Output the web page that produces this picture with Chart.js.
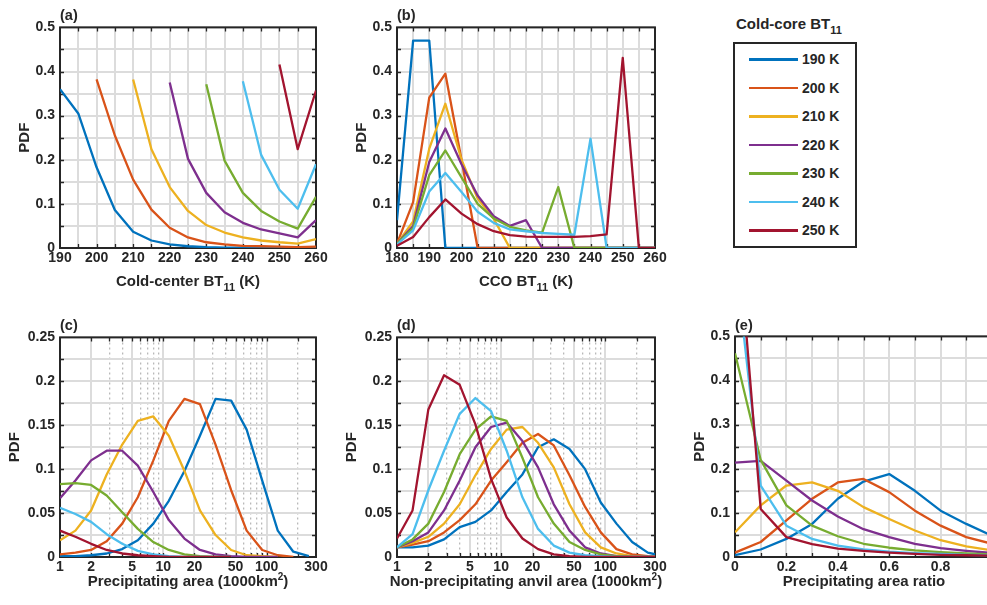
<!DOCTYPE html>
<html><head><meta charset="utf-8">
<script src="https://cdn.jsdelivr.net/npm/chart.js@4.4.0/dist/chart.umd.min.js"></script>
<style>
html,body{margin:0;padding:0;width:987px;height:605px;overflow:hidden;background:#fff;}
body{position:relative;font-family:"Liberation Sans",Arial,Helvetica,sans-serif;font-weight:bold;color:#262626;}
canvas{position:absolute;}
.t{position:absolute;white-space:nowrap;font-weight:bold;line-height:18px;}
.xt{font-size:15px;transform:translateX(-50%);}
.pl{font-size:14.5px;}
.sub{font-size:11px;position:relative;top:5px;}
.sup{font-size:10px;position:relative;top:-6px;}
#legend{position:absolute;left:733px;top:42px;width:124px;height:206px;box-sizing:border-box;border:2px solid #262626;}
.li{position:absolute;left:0;height:20px;}
.ll{position:absolute;left:14px;width:49px;height:2.5px;top:9px;}
.lt{position:absolute;left:67px;top:1px;font-size:14px;line-height:18px;white-space:nowrap;}
</style></head><body>
<canvas id="ca"></canvas><canvas id="cb"></canvas><canvas id="cc"></canvas><canvas id="cd"></canvas><canvas id="ce"></canvas>
<div class="t pl" style="left:60px;top:6px">(a)</div>
<div class="t pl" style="left:397px;top:6px">(b)</div>
<div class="t pl" style="left:60px;top:316px">(c)</div>
<div class="t pl" style="left:397px;top:316px">(d)</div>
<div class="t pl" style="left:735px;top:316px">(e)</div>
<div class="t xt" style="left:188px;top:272px">Cold-center BT<span class="sub">11</span> (K)</div>
<div class="t xt" style="left:526px;top:272px">CCO BT<span class="sub">11</span> (K)</div>
<div class="t xt" style="left:188px;top:572px">Precipitating area (1000km<span class="sup">2</span>)</div>
<div class="t xt" style="left:526px;top:572px">Non-precipitating anvil area (1000km<span class="sup">2</span>)</div>
<div class="t xt" style="left:864px;top:572px">Precipitating area ratio</div>
<div class="t" style="left:736px;top:15px;font-size:15px">Cold-core BT<span class="sub">11</span></div>
<div id="legend"></div>
<script>
// ---------- series ----------
const seriesNames = ['190 K','200 K','210 K','220 K','230 K','240 K','250 K'];
const seriesColors = ['#0072BD','#D95319','#EDB120','#7E2F8E','#77AC30','#4DBEEE','#A2142F'];

// ---------- panel (a): cold-center BT11 ----------
const btColdCenter = [190,195,200,205,210,215,220,225,230,235,240,245,250,255,260];
const a190 = [0.36,0.305,0.183,0.086,0.037,0.017,0.008,0.004,0.002,0.001,0.001,0.0005,0.0003,0.0002,0.0001];
const a200 = [null,null,0.382,0.255,0.155,0.087,0.046,0.024,0.013,0.008,0.005,0.004,0.003,0.002,0.003];
const a210 = [null,null,null,null,0.382,0.224,0.138,0.084,0.052,0.035,0.024,0.017,0.013,0.010,0.020];
const a220 = [null,null,null,null,null,null,0.375,0.202,0.125,0.081,0.057,0.042,0.033,0.024,0.063];
const a230 = [null,null,null,null,null,null,null,null,0.371,0.198,0.125,0.084,0.060,0.044,0.116];
const a240 = [null,null,null,null,null,null,null,null,null,null,0.378,0.211,0.132,0.089,0.190];
const a250 = [null,null,null,null,null,null,null,null,null,null,null,null,0.416,0.224,0.357];

// ---------- panel (b): CCO BT11 ----------
const btCCO = [180,185,190,195,200,205,210,215,220,225,230,235,240,245,250,255,260];
const b190 = [0.063,0.47,0.47,0,0,0,0,0,0,0,0,0,0,0,0,0,0];
const b200 = [0.01,0.104,0.341,0.395,0.2,0,0,0,0,0,0,0,0,0,0,0,0];
const b210 = [0.01,0.06,0.225,0.327,0.2,0.112,0.066,0,0,0,0,0,0,0,0,0,0];
const b220 = [0.01,0.05,0.195,0.271,0.19,0.119,0.072,0.05,0.063,0,0,0,0,0,0,0,0];
const b230 = [0.01,0.045,0.165,0.221,0.16,0.1,0.067,0.048,0.04,0.035,0.138,0,0,0,0,0,0];
const b240 = [0.008,0.04,0.128,0.17,0.127,0.082,0.057,0.042,0.038,0.034,0.032,0.03,0.248,0,0,0,0];
const b250 = [0.005,0.025,0.07,0.11,0.078,0.054,0.038,0.029,0.026,0.025,0.025,0.025,0.027,0.031,0.431,0,0];

// ---------- panels (c),(d): area bins (1000 km2) ----------
const areaBins = [1,1.41,2,2.83,4,5.66,8,11.3,16,22.6,32,45.3,64,90.5,128,181,256,362];
const c190 = [0.001,0.001,0.002,0.004,0.009,0.019,0.038,0.064,0.098,0.138,0.18,0.178,0.145,0.087,0.03,0.006,0.001,null];
const c200 = [0.003,0.005,0.008,0.018,0.038,0.068,0.11,0.155,0.18,0.174,0.128,0.076,0.03,0.008,0.002,0,null,null];
const c210 = [0.019,0.03,0.053,0.094,0.128,0.155,0.16,0.138,0.098,0.053,0.025,0.008,0.002,0.001,0,null,null,null];
const c220 = [0.067,0.087,0.11,0.121,0.121,0.104,0.074,0.042,0.021,0.008,0.003,0.001,0,0,0,null,null,null];
const c230 = [0.083,0.084,0.082,0.07,0.051,0.032,0.017,0.008,0.003,0.001,0,0,null,null,null,null,null,null];
const c240 = [0.056,0.049,0.04,0.026,0.015,0.007,0.003,0.001,0,0,0,0,null,null,null,null,null,null];
const c250 = [0.03,0.023,0.015,0.008,0.004,0.002,0.001,0,0,0,0,0,null,null,null,null,null,null];

const d190 = [0.011,0.011,0.013,0.02,0.034,0.04,0.053,0.074,0.094,0.125,0.134,0.123,0.1,0.062,0.038,0.017,0.005,0.001];
const d200 = [0.011,0.014,0.018,0.028,0.042,0.06,0.087,0.108,0.13,0.14,0.127,0.093,0.057,0.028,0.009,0.003,0.001,0];
const d210 = [0.011,0.016,0.023,0.038,0.06,0.093,0.123,0.145,0.148,0.13,0.102,0.06,0.028,0.011,0.004,0.001,0,0];
const d220 = [0.011,0.018,0.028,0.053,0.087,0.125,0.148,0.153,0.132,0.102,0.06,0.03,0.011,0.004,0.001,0,0,0];
const d230 = [0.011,0.02,0.038,0.074,0.117,0.145,0.16,0.155,0.113,0.068,0.038,0.017,0.008,0.003,0.001,0,0,0];
const d240 = [0.011,0.026,0.076,0.121,0.163,0.181,0.166,0.121,0.068,0.032,0.013,0.005,0.002,0.001,0,0,0,0];
const d250 = [0.021,0.053,0.168,0.207,0.196,0.151,0.089,0.045,0.021,0.009,0.003,0.001,0,0,0,0,0,0];

// ---------- panel (e): precipitating area ratio ----------
const areaRatio = [0,0.1,0.2,0.3,0.4,0.5,0.6,0.7,0.8,0.9,1.0];
const e190 = [0.004,0.017,0.041,0.075,0.132,0.171,0.188,0.15,0.105,0.075,0.048];
const e200 = [0.01,0.034,0.083,0.132,0.169,0.177,0.147,0.105,0.071,0.045,0.03];
const e210 = [0.056,0.117,0.162,0.169,0.15,0.113,0.086,0.06,0.038,0.024,0.015];
const e220 = [0.214,0.218,0.173,0.128,0.092,0.063,0.045,0.03,0.02,0.014,0.009];
const e230 = [0.462,0.22,0.117,0.071,0.047,0.03,0.021,0.015,0.011,0.008,0.006];
const e240 = [0.68,0.162,0.071,0.041,0.026,0.017,0.012,0.009,0.007,0.005,0.004];
const e250 = [0.82,0.109,0.045,0.029,0.019,0.014,0.01,0.007,0.005,0.004,0.003];

// ---------- tick values ----------
const logGridTicks = [1,2,3,4,5,6,7,8,9,10,20,30,40,50,60,70,80,90,100,200,300];
const logLabelTicks = [1,2,5,10,20,50,100,300];

// ---------- rendering ----------
const FONT = '"Liberation Sans", Arial, Helvetica, sans-serif';
Chart.defaults.font.family = FONT;
Chart.defaults.font.weight = 'bold';
Chart.defaults.font.size = 14;
Chart.defaults.color = '#262626';

const INK = '#262626';
const GRID = '#dcdcdc';
const MINOR = '#b9b9b9';

function isMult(v, s){ const r = v / s; return Math.abs(r - Math.round(r)) < 1e-6; }
function fmt(v){ return String(+(+v).toFixed(4)); }

const framePlugin = {
  id: 'frame',
  beforeDatasetsDraw(chart){
    const {ctx, chartArea: a, scales} = chart;
    ctx.save();
    ctx.strokeStyle = INK;
    ctx.lineWidth = 1.3;
    ctx.beginPath();
    scales.x.ticks.forEach(t => {
      const p = Math.round(scales.x.getPixelForValue(t.value)) + 0.5;
      if (p <= a.left + 1 || p >= a.right - 1) return;
      const len = 4;
      ctx.moveTo(p, a.bottom); ctx.lineTo(p, a.bottom - len);
      ctx.moveTo(p, a.top); ctx.lineTo(p, a.top + len);
    });
    scales.y.ticks.forEach(t => {
      const p = Math.round(scales.y.getPixelForValue(t.value)) + 0.5;
      if (p <= a.top + 1 || p >= a.bottom - 1) return;
      ctx.moveTo(a.left, p); ctx.lineTo(a.left + 4, p);
      ctx.moveTo(a.right, p); ctx.lineTo(a.right - 4, p);
    });
    ctx.stroke();
    ctx.lineWidth = 2;
    ctx.strokeRect(a.left, a.top, a.right - a.left, a.bottom - a.top);
    ctx.restore();
  }
};

function sets(xs, list){
  return list.map((ys, i) => ({
    label: seriesNames[i],
    data: xs.map((x, j) => ({x: x, y: ys[j]})).filter(p => p.y !== null && p.y !== undefined),
    borderColor: seriesColors[i],
    backgroundColor: seriesColors[i],
    borderWidth: 2.3,
    borderJoinStyle: 'round',
    pointRadius: 0,
    fill: false,
    tension: 0,
    order: list.length - i
  }));
}

function linX(min, max, step, every){
  return {type:'linear', position:'bottom', min, max,
    afterFit: s => { s.height = 30; },
    ticks:{stepSize:step, autoSkip:false, maxRotation:0, padding:2, color:INK,
      callback: v => isMult(v, every) ? fmt(v) : ''},
    grid:{color:GRID, lineWidth:2, drawTicks:false},
    border:{display:false}};
}
function logX(){
  return {type:'logarithmic', position:'bottom', min:1, max:300,
    afterFit: s => { s.height = 30; },
    afterBuildTicks: s => { s.ticks = logGridTicks.map(v => ({value:v})); },
    ticks:{autoSkip:false, maxRotation:0, padding:2, color:INK,
      callback: v => logLabelTicks.includes(+v) ? String(v) : ''},
    grid:{drawTicks:false,
      color: c => (c.tick && logLabelTicks.includes(c.tick.value)) ? GRID : MINOR,
      lineWidth: c => (c.tick && logLabelTicks.includes(c.tick.value)) ? 2 : 1.3},
    border:{display:false,
      dash: c => (c.tick && !logLabelTicks.includes(c.tick.value)) ? [2,3] : []}};
}
function linY(max, step, every, titlePad){
  return {type:'linear', position:'left', min:0, max,
    afterFit: s => { s.width = 60; },
    ticks:{stepSize:step, autoSkip:false, padding:5, color:INK,
      callback: v => isMult(v, every) ? fmt(v) : ''},
    grid:{color:GRID, lineWidth:2, drawTicks:false},
    border:{display:false},
    title:{display:true, text:'PDF', color:INK, font:{size:15, weight:'bold'}, padding:{top:titlePad, bottom:0}}};
}

function makePanel(id, box, xScale, yScale, datasets){
  const PT = 12, PR = 24, XH = 30, YW = 60;
  const cv = document.getElementById(id);
  const w = (box.R - box.L) + YW + PR;
  const h = (box.B - box.T) + PT + XH;
  cv.width = w; cv.height = h;
  cv.style.width = w + 'px'; cv.style.height = h + 'px';
  cv.style.left = (box.L - YW) + 'px';
  cv.style.top = (box.T - PT) + 'px';
  new Chart(cv, {
    type:'line',
    data:{datasets},
    options:{
      responsive:false, animation:false, devicePixelRatio:1,
      layout:{padding:{top:PT, right:PR, left:0, bottom:0}},
      plugins:{legend:{display:false}, tooltip:{enabled:false}},
      scales:{x:xScale, y:yScale}
    },
    plugins:[framePlugin]
  });
}

makePanel('ca', {L:60, T:26, R:316, B:248}, linX(190,260,5,10), linY(0.5,0.05,0.1,16),
  sets(btColdCenter, [a190,a200,a210,a220,a230,a240,a250]));
makePanel('cb', {L:397, T:26, R:655, B:248}, linX(180,260,5,10), linY(0.5,0.05,0.1,16),
  sets(btCCO, [b190,b200,b210,b220,b230,b240,b250]));
makePanel('cc', {L:60, T:336, R:316, B:557}, logX(), linY(0.25,0.025,0.05,6),
  sets(areaBins, [c190,c200,c210,c220,c230,c240,c250]));
makePanel('cd', {L:397, T:336, R:655, B:557}, logX(), linY(0.25,0.025,0.05,6),
  sets(areaBins, [d190,d200,d210,d220,d230,d240,d250]));
makePanel('ce', {L:735, T:335, R:992, B:557}, linX(0,1,0.1,0.2), linY(0.5,0.05,0.1,16),
  sets(areaRatio, [e190,e200,e210,e220,e230,e240,e250]));

// legend (HTML, built from the series arrays)
const lg = document.getElementById('legend');
seriesNames.forEach((n, i) => {
  const row = document.createElement('div');
  row.className = 'li';
  row.style.top = (17 + i * 28.5 - 10 - 2) + 'px';
  row.innerHTML = '<div class="ll" style="background:' + seriesColors[i] + '"></div><div class="lt">' + n + '</div>';
  lg.appendChild(row);
});
</script>
</body></html>
